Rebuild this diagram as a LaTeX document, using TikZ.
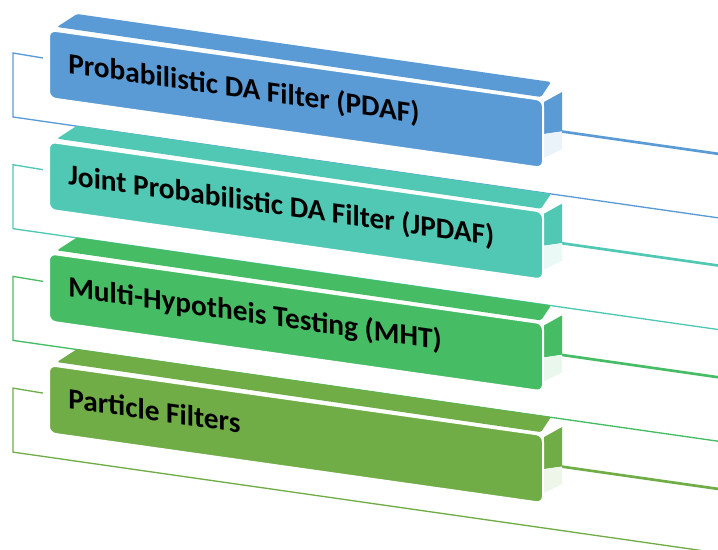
\documentclass[tikz,border=0pt]{standalone}
\usepackage{fontspec}
\setmainfont{Carlito}
\definecolor{pdafblue}{HTML}{5B9BD5}
\definecolor{jpdafteal}{HTML}{50C8B4}
\definecolor{mhtgreen}{HTML}{46BC64}
\definecolor{pfolive}{HTML}{70AD47}
\tikzset{
  ribbonline/.style={line width=1pt, line join=miter},
  ribbonedge/.style={line width=2pt},
  frontface/.style={draw=white, line width=1.5pt, rounded corners=5pt},
  topface/.style={rounded corners=1.2pt},
  itemtext/.style={font=\fontsize{22pt}{26pt}\selectfont\bfseries, text=black,
    anchor=base west, inner sep=0pt, yslant=-0.143, transform shape},
}
\begin{document}
\begin{tikzpicture}[x=0.75pt, y=-0.75pt]
\useasboundingbox (0,0) rectangle (718,550);
\foreach \k/\col/\txt in {0/pdafblue/{Probabilistic DA Filter (PDAF)},
                          1/jpdafteal/{Joint Probabilistic DA Filter (JPDAF)},
                          2/mhtgreen/{Multi-Hypotheis Testing (MHT)},
                          3/pfolive/{Particle Filters}}{
  \begin{scope}[shift={(0,\k*111.7)}]
    % back strip running off to the right
    \draw[ribbonline, \col] (43,58) -- (13,53) -- (13,117) -- (718,217.8);
    \draw[ribbonedge, \col] (561,131.4) -- (718,153.8);
    % top face of the block
    \fill[topface, \col] (57,27) -- (77,14) -- (551,82) -- (541,97) -- cycle;
    % right side face: coloured above the strip, pale below it
    \fill[\col] (544,102) -- (562,92) -- (562,131.4) -- (544,134) -- cycle;
    \fill[\col!12] (544,134) -- (562,131.4) -- (562,149) -- (544,158) -- cycle;
    % front face with the label
    \filldraw[frontface, fill=\col] (49,30) -- (543,100) -- (543,168) -- (49,98) -- cycle;
    \node[itemtext] (label\k) at (68,73) {\txt};
  \end{scope}
}
\end{tikzpicture}
\end{document}
